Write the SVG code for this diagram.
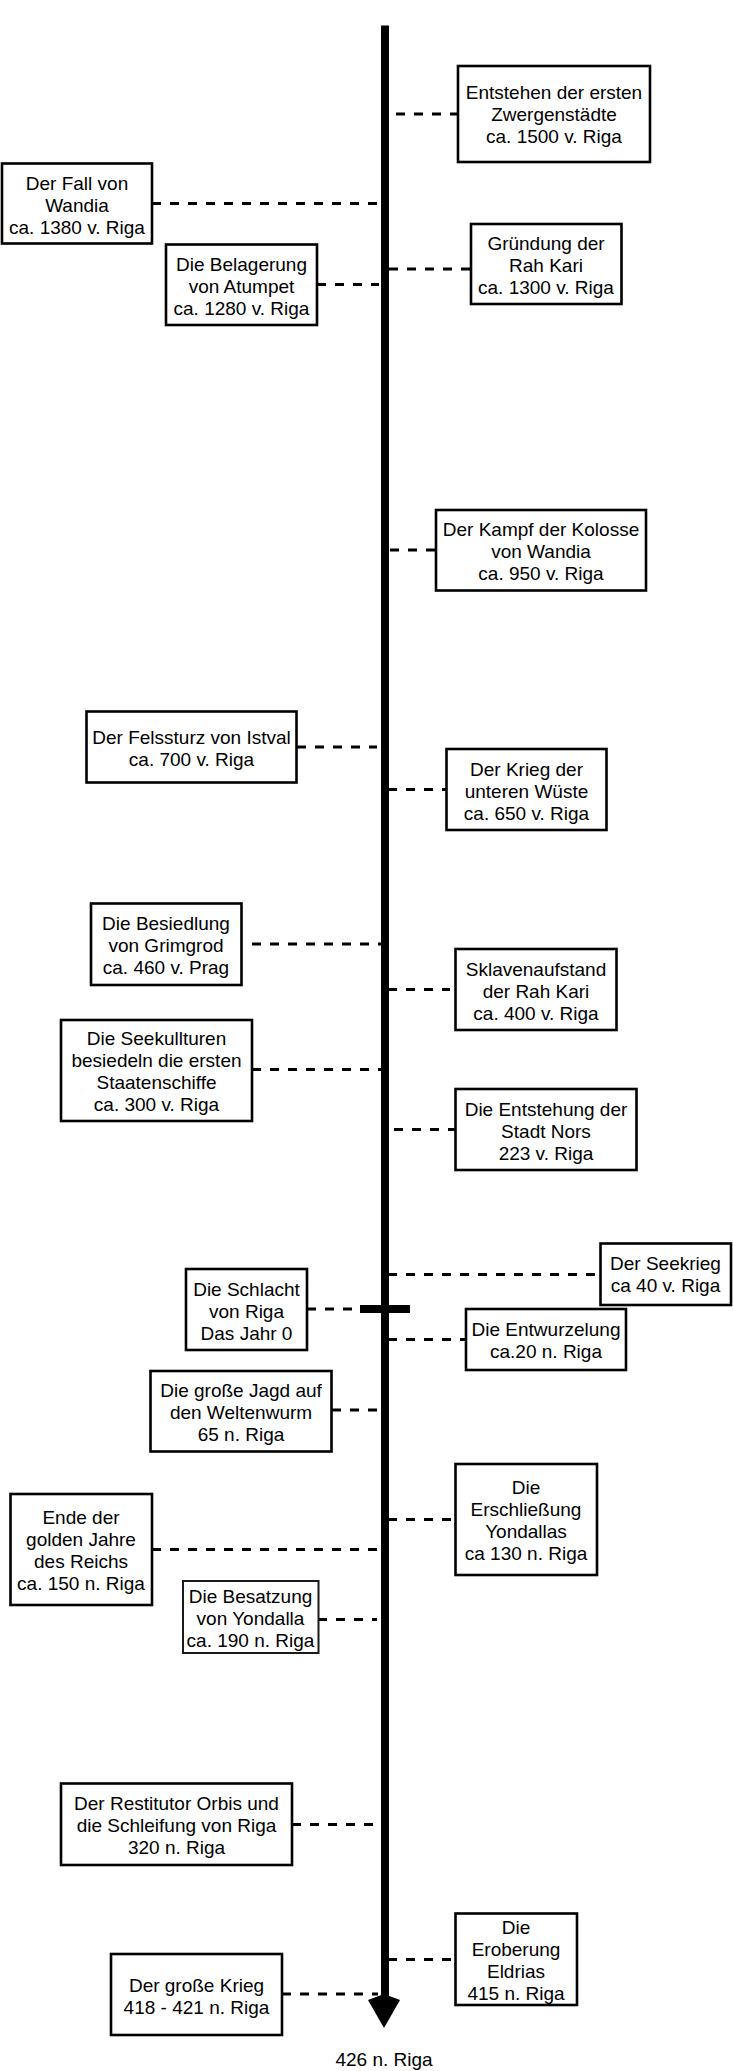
<svg xmlns="http://www.w3.org/2000/svg" width="733" height="2071" viewBox="0 0 733 2071">
<style>
.b{fill:#fff;stroke:#000;stroke-width:2.6}
.b2{fill:#fff;stroke:#1a1a1a;stroke-width:2}
.t{font-family:"Liberation Sans",Arial,sans-serif;font-size:19px;fill:#000;text-anchor:middle}
.c{stroke:#000;stroke-width:3;stroke-dasharray:9 9;fill:none}
</style>
<rect width="733" height="2071" fill="#fff"/>
<g id="axis">
<line x1="385" y1="25.5" x2="385" y2="1998" stroke="#000" stroke-width="8"/>
<polygon points="384,2028 368,2000 384,1994 400,2000" fill="#000"/>
<rect x="360" y="1305" width="50" height="8" fill="#000"/>
<text class="t" x="384" y="2066">426 n. Riga</text>
</g>
<g id="connectors">
<line class="c" x1="396" y1="114" x2="458" y2="114"/>
<line class="c" x1="152" y1="203.5" x2="378" y2="203.5"/>
<line class="c" x1="317" y1="284.5" x2="379" y2="284.5"/>
<line class="c" x1="389" y1="269" x2="471" y2="269"/>
<line class="c" x1="390" y1="550" x2="436" y2="550"/>
<line class="c" x1="297" y1="747" x2="377" y2="747"/>
<line class="c" x1="388" y1="789.5" x2="446" y2="789.5"/>
<line class="c" x1="252" y1="944" x2="382" y2="944"/>
<line class="c" x1="388" y1="989.5" x2="450" y2="989.5"/>
<line class="c" x1="252" y1="1069.5" x2="382" y2="1069.5"/>
<line class="c" x1="394" y1="1129.5" x2="456" y2="1129.5"/>
<line class="c" x1="388" y1="1274.5" x2="600" y2="1274.5"/>
<line class="c" x1="307" y1="1309" x2="360" y2="1309"/>
<line class="c" x1="388" y1="1339.5" x2="466" y2="1339.5"/>
<line class="c" x1="332" y1="1410" x2="378" y2="1410"/>
<line class="c" x1="388" y1="1519.5" x2="451" y2="1519.5"/>
<line class="c" x1="152" y1="1549.5" x2="378" y2="1549.5"/>
<line class="c" x1="318" y1="1619.5" x2="377" y2="1619.5"/>
<line class="c" x1="292" y1="1824.5" x2="378" y2="1824.5"/>
<line class="c" x1="388" y1="1959.5" x2="451" y2="1959.5"/>
<line class="c" x1="282" y1="1994" x2="378" y2="1994"/>
</g>
<g id="n1"><rect class="b" x="458" y="66" width="192" height="96"/>
<text class="t" x="554" y="99">Entstehen der ersten</text><text class="t" x="554" y="121">Zwergenstädte</text><text class="t" x="554" y="143">ca. 1500 v. Riga</text></g>
<g id="n2"><rect class="b" x="2" y="163.5" width="150" height="80"/>
<text class="t" x="77" y="189.5">Der Fall von</text><text class="t" x="77" y="211.5">Wandia</text><text class="t" x="77" y="233.5">ca. 1380 v. Riga</text></g>
<g id="n3"><rect class="b" x="166" y="244.5" width="151" height="80.5"/>
<text class="t" x="241.5" y="270.5">Die Belagerung</text><text class="t" x="241.5" y="292.5">von Atumpet</text><text class="t" x="241.5" y="314.5">ca. 1280 v. Riga</text></g>
<g id="n4"><rect class="b" x="471" y="224" width="150.5" height="80"/>
<text class="t" x="546" y="250">Gründung der</text><text class="t" x="546" y="272">Rah Kari</text><text class="t" x="546" y="294">ca. 1300 v. Riga</text></g>
<g id="n5"><rect class="b" x="436" y="510" width="210" height="80.5"/>
<text class="t" x="541" y="536">Der Kampf der Kolosse</text><text class="t" x="541" y="558">von Wandia</text><text class="t" x="541" y="580">ca. 950 v. Riga</text></g>
<g id="n6"><rect class="b" x="86.5" y="711.5" width="210" height="71"/>
<text class="t" x="191.5" y="744">Der Felssturz von Istval</text><text class="t" x="191.5" y="766">ca. 700 v. Riga</text></g>
<g id="n7"><rect class="b" x="446.5" y="749" width="160" height="81"/>
<text class="t" x="526.5" y="775.5">Der Krieg der</text><text class="t" x="526.5" y="797.5">unteren Wüste</text><text class="t" x="526.5" y="819.5">ca. 650 v. Riga</text></g>
<g id="n8"><rect class="b" x="91" y="903.5" width="150.5" height="81.5"/>
<text class="t" x="166" y="930">Die Besiedlung</text><text class="t" x="166" y="952">von Grimgrod</text><text class="t" x="166" y="974">ca. 460 v. Prag</text></g>
<g id="n9"><rect class="b" x="455.5" y="949" width="161" height="81"/>
<text class="t" x="536" y="975.5">Sklavenaufstand</text><text class="t" x="536" y="997.5">der Rah Kari</text><text class="t" x="536" y="1019.5">ca. 400 v. Riga</text></g>
<g id="n10"><rect class="b" x="61" y="1020" width="191" height="101"/>
<text class="t" x="156.5" y="1044.5">Die Seekullturen</text><text class="t" x="156.5" y="1066.5">besiedeln die ersten</text><text class="t" x="156.5" y="1088.5">Staatenschiffe</text><text class="t" x="156.5" y="1110.5">ca. 300 v. Riga</text></g>
<g id="n11"><rect class="b" x="455.5" y="1089" width="181" height="81"/>
<text class="t" x="546" y="1115.5">Die Entstehung der</text><text class="t" x="546" y="1137.5">Stadt Nors</text><text class="t" x="546" y="1159.5">223 v. Riga</text></g>
<g id="n12"><rect class="b" x="600.5" y="1243.5" width="130.5" height="61.5"/>
<text class="t" x="665.5" y="1270">Der Seekrieg</text><text class="t" x="665.5" y="1292">ca 40 v. Riga</text></g>
<g id="n13"><rect class="b" x="186" y="1269" width="121" height="81"/>
<text class="t" x="246.5" y="1295.5">Die Schlacht</text><text class="t" x="246.5" y="1317.5">von Riga</text><text class="t" x="246.5" y="1339.5">Das Jahr 0</text></g>
<g id="n14"><rect class="b" x="466" y="1309" width="160" height="61"/>
<text class="t" x="546" y="1335.5">Die Entwurzelung</text><text class="t" x="546" y="1357.5">ca.20 n. Riga</text></g>
<g id="n15"><rect class="b" x="150.5" y="1371" width="181" height="80.5"/>
<text class="t" x="241" y="1397">Die große Jagd auf</text><text class="t" x="241" y="1419">den Weltenwurm</text><text class="t" x="241" y="1441">65 n. Riga</text></g>
<g id="n16"><rect class="b" x="455.5" y="1464" width="141.5" height="111"/>
<text class="t" x="526" y="1493.5">Die</text><text class="t" x="526" y="1515.5">Erschließung</text><text class="t" x="526" y="1537.5">Yondallas</text><text class="t" x="526" y="1559.5">ca 130 n. Riga</text></g>
<g id="n17"><rect class="b" x="10.5" y="1494" width="141.5" height="111"/>
<text class="t" x="81" y="1523.5">Ende der</text><text class="t" x="81" y="1545.5">golden Jahre</text><text class="t" x="81" y="1567.5">des Reichs</text><text class="t" x="81" y="1589.5">ca. 150 n. Riga</text></g>
<g id="n18"><rect class="b2" x="183" y="1581" width="135.5" height="72"/>
<text class="t" x="250.5" y="1603">Die Besatzung</text><text class="t" x="250.5" y="1625">von Yondalla</text><text class="t" x="250.5" y="1647">ca. 190 n. Riga</text></g>
<g id="n19"><rect class="b" x="61" y="1783.5" width="231" height="81.5"/>
<text class="t" x="176.5" y="1810">Der Restitutor Orbis und</text><text class="t" x="176.5" y="1832">die Schleifung von Riga</text><text class="t" x="176.5" y="1854">320 n. Riga</text></g>
<g id="n20"><rect class="b" x="455.5" y="1913.5" width="121.5" height="91.5"/>
<text class="t" x="516" y="1933.5">Die</text><text class="t" x="516" y="1955.5">Eroberung</text><text class="t" x="516" y="1977.5">Eldrias</text><text class="t" x="516" y="1999.5">415 n. Riga</text></g>
<g id="n21"><rect class="b" x="111" y="1954" width="171" height="81"/>
<text class="t" x="196.5" y="1991.5">Der große Krieg</text><text class="t" x="196.5" y="2013.5">418 - 421 n. Riga</text></g>
</svg>
